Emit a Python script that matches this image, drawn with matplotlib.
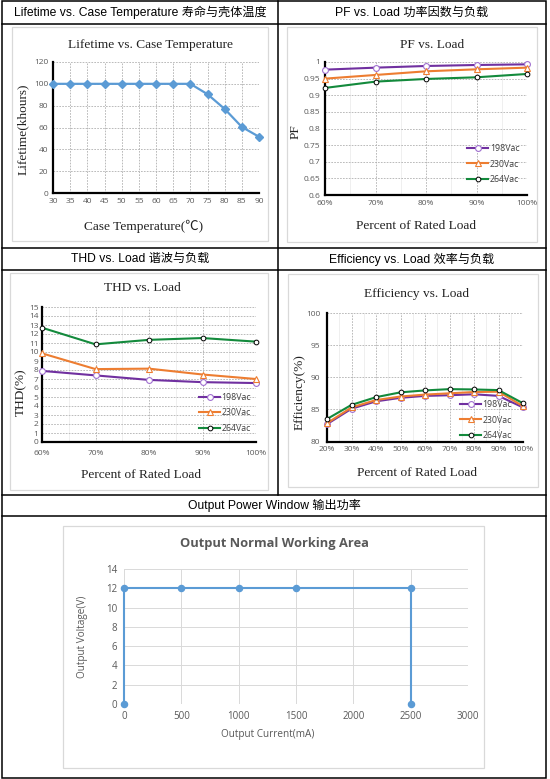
import matplotlib
matplotlib.use("Agg")
import matplotlib.pyplot as plt
from matplotlib.patches import Rectangle
from matplotlib.lines import Line2D

W, H = 550, 779

# ---------------- data ----------------
temps = [30, 35, 40, 45, 50, 55, 60, 65, 70, 75, 80, 85, 90]
lifetime = [100, 100, 100, 100, 100, 100, 100, 100, 100, 90.5, 77, 60.5, 51.5]

pf_loads = ["60%", "70%", "80%", "90%", "100%"]
pf_198 = [0.977, 0.983, 0.988, 0.991, 0.993]
pf_230 = [0.950, 0.961, 0.972, 0.978, 0.983]
pf_264 = [0.922, 0.941, 0.949, 0.954, 0.964]

thd_loads = ["60%", "70%", "80%", "90%", "100%"]
thd_198 = [7.9, 7.4, 6.9, 6.65, 6.55]
thd_230 = [9.85, 8.1, 8.15, 7.5, 7.0]
thd_264 = [12.7, 10.85, 11.35, 11.55, 11.15]

eff_loads = ["20%", "30%", "40%", "50%", "60%", "70%", "80%", "90%", "100%"]
eff_198 = [82.7, 85.1, 86.25, 86.8, 87.1, 87.2, 87.35, 87.1, 85.3]
eff_230 = [82.85, 85.3, 86.45, 87.0, 87.3, 87.5, 87.7, 87.75, 85.5]
eff_264 = [83.5, 85.7, 86.9, 87.65, 87.95, 88.15, 88.1, 88.0, 85.95]

series_names = ["198Vac", "230Vac", "264Vac"]

win_current = [0, 0, 500, 1000, 1500, 2500, 2500]
win_voltage = [0, 12, 12, 12, 12, 12, 0]
win_marker_idx = [0, 1, 2, 3, 4, 5, 6]

headers = ["Lifetime vs. Case Temperature 寿命与壳体温度",
           "PF vs. Load 功率因数与负载",
           "THD vs. Load 谐波与负载",
           "Efficiency vs. Load 效率与负载",
           "Output Power Window 输出功率"]

# ---------------- styles ----------------
SERIF = "Liberation Serif"
TICKF = ["Open Sans", "DejaVu Sans"]
HEADF = ["Liberation Sans", "Noto Sans CJK SC"]
GRAY = "#595959"
C198, C230, C264 = "#7030a0", "#ed7d31", "#138a3c"
BLUE = "#5b9bd5"

fig = plt.figure(figsize=(W / 100, H / 100), dpi=100)
fig.patch.set_facecolor("white")


def rect(x0, y0, x1, y1):
    return [x0 / W, 1 - y1 / H, (x1 - x0) / W, (y1 - y0) / H]


def ftext(x, y, s, **kw):
    fig.text(x / W, 1 - y / H, s, ha=kw.pop("ha", "center"), va=kw.pop("va", "center"), **kw)


# frame layer
bg = fig.add_axes([0, 0, 1, 1])
bg.set_xlim(0, W)
bg.set_ylim(H, 0)
bg.axis("off")
lw_tab = 1.1
bg.add_patch(Rectangle((2, 1), 544, 776.5, fill=False, ec="black", lw=lw_tab))
for yy in [23.5, 248, 270, 495, 516]:
    bg.plot([2, 546], [yy, yy], color="black", lw=lw_tab)
bg.plot([278, 278], [1, 495], color="black", lw=lw_tab)
for (x0, y0, x1, y1) in [(12, 27, 268, 241), (287, 27, 537, 242),
                         (10, 273, 268, 490), (288, 274, 538, 487),
                         (63, 526, 484, 768)]:
    bg.add_patch(Rectangle((x0, y0), x1 - x0, y1 - y0, fill=False, ec="#d9d9d9", lw=0.9))

for (cx, cy), s in zip([(140, 12.5), (412, 12.5), (140, 259), (412, 259), (274, 505.5)], headers):
    ftext(cx, cy, s, fontsize=8.7, family=HEADF, color="black")


def style_excel(ax):
    for sp in ["top", "right"]:
        ax.spines[sp].set_visible(False)
    for sp in ["left", "bottom"]:
        ax.spines[sp].set_linewidth(1.6)
        ax.spines[sp].set_color("black")
        ax.spines[sp].set_zorder(5)
    ax.grid(True, which="major", color="#b0b0b0", ls=(0, (2, 1.5)), lw=0.6)
    ax.tick_params(length=0, labelsize=6, labelcolor=GRAY, pad=3.5)
    for lab in ax.get_xticklabels() + ax.get_yticklabels():
        lab.set_family(TICKF)
    ax.set_axisbelow(True)


def add_minor(ax, n):
    for i in range(n - 1):
        ax.axvline(i + 0.5, color="#ececec", lw=0.6, zorder=0)


def legend(ax, x, y):
    handles = [
        Line2D([], [], color=C198, lw=1.5, marker="o", ms=4.2, mfc="white", mec="#a070d0", mew=0.8),
        Line2D([], [], color=C230, lw=1.5, marker="^", ms=4.2, mfc="white", mec=C230, mew=0.8),
        Line2D([], [], color=C264, lw=1.5, marker="o", ms=3.4, mfc="white", mec="black", mew=0.7),
    ]
    lg = ax.legend(handles, series_names, loc="center left", bbox_to_anchor=(x, y),
                   frameon=False, handlelength=2.4, handletextpad=0.15,
                   labelspacing=0.75, borderpad=0, borderaxespad=0,
                   prop={"family": TICKF, "size": 6.3})
    for t in lg.get_texts():
        t.set_color("#404040")


def plot3(ax, x, s198, s230, s264):
    ax.plot(x, s198, color=C198, lw=1.5, marker="o", ms=4.2, mfc="white", mec="#a070d0", mew=0.8, clip_on=False, zorder=6)
    ax.plot(x, s230, color=C230, lw=1.5, marker="^", ms=4.2, mfc="white", mec=C230, mew=0.8, clip_on=False, zorder=6)
    ax.plot(x, s264, color=C264, lw=1.5, marker="o", ms=3.4, mfc="white", mec="black", mew=0.7, clip_on=False, zorder=7)


# ---------- Panel 1: Lifetime ----------
ax1 = fig.add_axes(rect(53, 62, 259, 193))
ax1.plot(temps, lifetime, color=BLUE, lw=1.6, marker="D", ms=3.6, mfc=BLUE, mec=BLUE, clip_on=False, zorder=6)
ax1.set_xlim(30, 90)
ax1.set_ylim(0, 120)
ax1.set_xticks(temps)
ax1.set_yticks(range(0, 121, 20))
style_excel(ax1)
ftext(151, 45, "Lifetime vs. Case Temperature", fontsize=9.6, family=SERIF, color="#222222")
ftext(143.5, 226, "Case Temperature(℃)", fontsize=9.6, family=[SERIF, "Noto Sans CJK SC"], color="#222222")
ftext(23, 129, "Lifetime(khours)", fontsize=9.6, family=SERIF, color="#222222", rotation=90)

# ---------- Panel 2: PF ----------
ax2 = fig.add_axes(rect(325, 62, 527, 195))
xp = list(range(len(pf_loads)))
plot3(ax2, xp, pf_198, pf_230, pf_264)
ax2.set_xlim(0, len(pf_loads) - 1)
ax2.set_ylim(0.6, 1.0)
ax2.set_xticks(xp)
ax2.set_xticklabels(pf_loads)
yt = [0.6, 0.65, 0.7, 0.75, 0.8, 0.85, 0.9, 0.95, 1.0]
ax2.set_yticks(yt)
ax2.set_yticklabels([f"{v:g}" for v in yt])
add_minor(ax2, len(pf_loads))
style_excel(ax2)
legend(ax2, 0.705, 0.233)
ftext(432, 45, "PF vs. Load", fontsize=9.6, family=SERIF, color="#222222")
ftext(416, 226, "Percent of Rated Load", fontsize=9.6, family=SERIF, color="#222222")
ftext(296, 132, "PF", fontsize=9.6, family=SERIF, color="#222222", rotation=90)

# ---------- Panel 3: THD ----------
ax3 = fig.add_axes(rect(42, 307, 256, 442))
xt = list(range(len(thd_loads)))
plot3(ax3, xt, thd_198, thd_230, thd_264)
ax3.set_xlim(0, len(thd_loads) - 1)
ax3.set_ylim(0, 15)
ax3.set_xticks(xt)
ax3.set_xticklabels(thd_loads)
ax3.set_yticks(range(0, 16))
add_minor(ax3, len(thd_loads))
style_excel(ax3)
ax3.tick_params(axis="x", pad=6)
ax3.tick_params(axis="y", pad=2.5)
legend(ax3, 0.735, 0.215)
ftext(142, 288, "THD vs. Load", fontsize=9.6, family=SERIF, color="#222222")
ftext(141, 475, "Percent of Rated Load", fontsize=9.6, family=SERIF, color="#222222")
ftext(21, 392, "THD(%)", fontsize=9.6, family=SERIF, color="#222222", rotation=90)

# ---------- Panel 4: Efficiency ----------
ax4 = fig.add_axes(rect(327, 313, 523, 441.5))
xe = list(range(len(eff_loads)))
plot3(ax4, xe, eff_198, eff_230, eff_264)
ax4.set_xlim(0, len(eff_loads) - 1)
ax4.set_ylim(80, 100)
ax4.set_xticks(xe)
ax4.set_xticklabels(eff_loads)
ax4.set_yticks(range(80, 101, 5))
add_minor(ax4, len(eff_loads))
style_excel(ax4)
ax4.tick_params(axis="y", pad=5)
legend(ax4, 0.68, 0.167)
ftext(417, 294, "Efficiency vs. Load", fontsize=9.6, family=SERIF, color="#222222")
ftext(417, 473, "Percent of Rated Load", fontsize=9.6, family=SERIF, color="#222222")
ftext(300, 392, "Efficiency(%)", fontsize=9.6, family=SERIF, color="#222222", rotation=90)

# ---------- Panel 5: Output window ----------
ax5 = fig.add_axes(rect(124, 569, 468, 704))
ax5.plot(win_current, win_voltage, color=BLUE, lw=1.5, marker="o", ms=4.4,
         markevery=win_marker_idx, clip_on=False, zorder=6)
ax5.set_xlim(0, 3000)
ax5.set_ylim(0, 14)
ax5.set_xticks(range(0, 3001, 500))
ax5.set_yticks(range(0, 15, 2))
for sp in ax5.spines.values():
    sp.set_visible(False)
ax5.grid(True, color="#d9d9d9", lw=0.7)
ax5.set_axisbelow(True)
ax5.tick_params(length=0, labelsize=7, labelcolor=GRAY, pad=5)
for lab in ax5.get_xticklabels() + ax5.get_yticklabels():
    lab.set_family(TICKF)
ftext(274, 544, "Output Normal Working Area", fontsize=9.3, family=TICKF, weight="bold", color=GRAY)
ftext(268, 735, "Output Current(mA)", fontsize=7.2, family=TICKF, color=GRAY)
ftext(83, 637, "Output Voltage(V)", fontsize=7.2, family=TICKF, color=GRAY, rotation=90)

fig.savefig("out.png", dpi=100, facecolor="white")
